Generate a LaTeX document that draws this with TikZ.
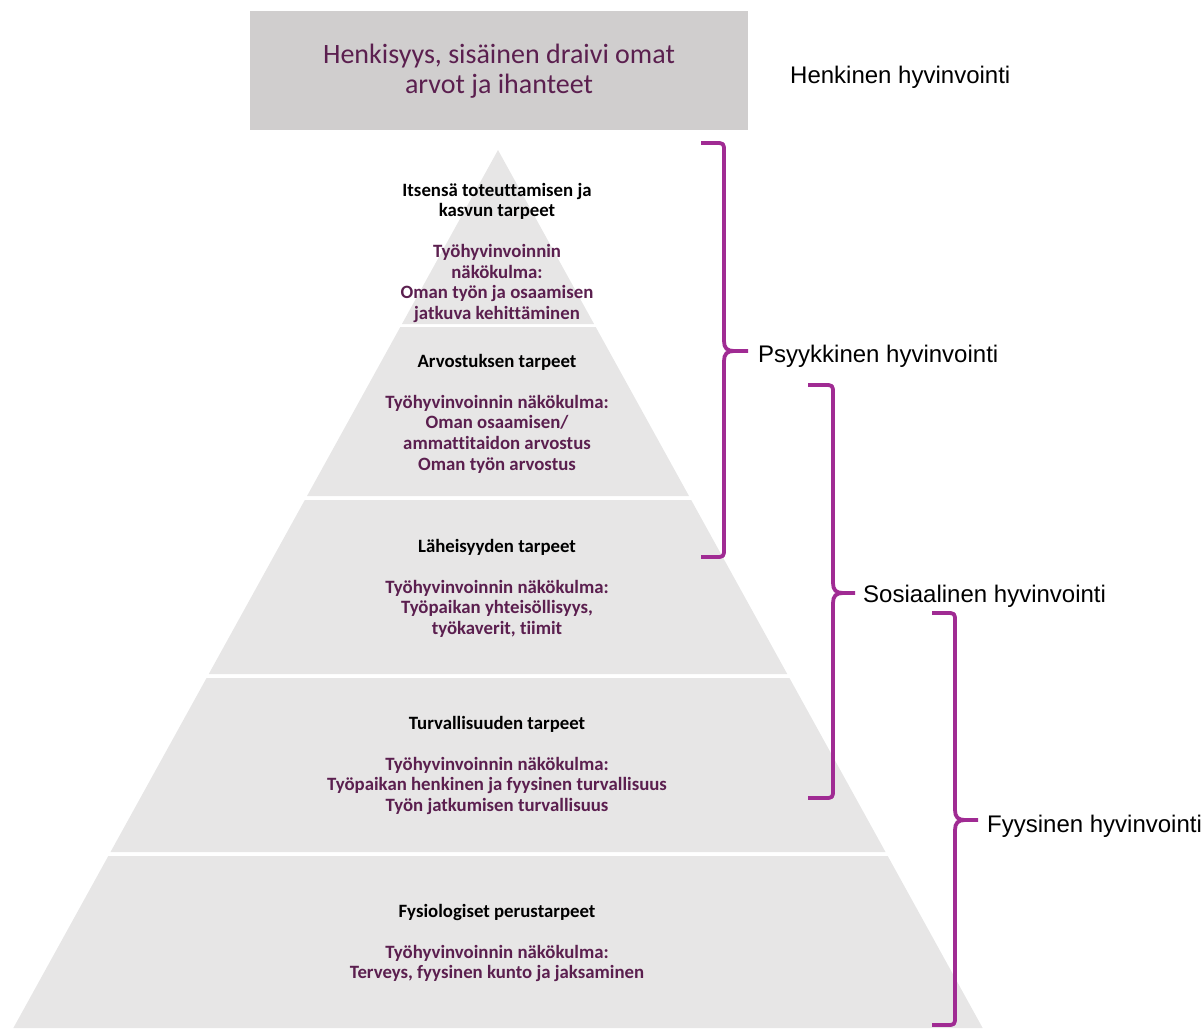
\documentclass[tikz,border=0pt]{standalone}
\usepackage{fontspec}
\newfontfamily\carlito[Ligatures=NoCommon]{Carlito}
\newfontfamily\sidefont{Liberation Sans}
\definecolor{bandgray}{HTML}{E7E6E6}
\definecolor{topgray}{HTML}{D0CECE}
\definecolor{txtpurple}{HTML}{5B1F4F}
\definecolor{bracepurple}{HTML}{A02B93}
\newcommand\mybrace[6]{%
  \draw[brace] (#1,#3) -- ({#2-9},#3) .. controls (#2,#3) and (#2,#3) .. (#2,{#3+9})
    -- (#2,{#4-10}) .. controls (#2,{#4-3}) and ({#2+3},#4) .. ({#2+10},#4) -- (#6,#4);
  \draw[brace] (#1,#5) -- ({#2-9},#5) .. controls (#2,#5) and (#2,#5) .. (#2,{#5-9})
    -- (#2,{#4+10}) .. controls (#2,{#4+3}) and ({#2+3},#4) .. ({#2+10},#4);
}
\begin{document}
\begin{tikzpicture}[x=1pt,y=-1pt,
  band/.style={fill=bandgray,draw=none},
  topbox/.style={fill=topgray,draw=none,minimum width=498pt,minimum height=119pt,inner sep=0pt},
  toptext/.style={font=\carlito\fontsize{28}{30}\selectfont,text=txtpurple,anchor=base,inner sep=0pt},
  title/.style={font=\carlito\bfseries\fontsize{18.8}{20.7}\selectfont,text=black,anchor=base,inner sep=0pt},
  body/.style={font=\carlito\bfseries\fontsize{18.8}{20.7}\selectfont,text=txtpurple,anchor=base,inner sep=0pt},
  brace/.style={draw=bracepurple,line width=3.8pt,line join=round},
  side/.style={font=\sidefont\fontsize{24}{28}\selectfont,text=black,anchor=base west,inner sep=0pt}]
\useasboundingbox (0,0) rectangle (1201,1028);
% pyramid bands
\foreach \a/\b in {150/324,327/496,500/674,678/852,856/1028}
  \fill[band] ({498-0.552*(\a-150)},\a) -- ({498+0.552*(\a-150)},\a)
     -- ({498+0.552*(\b-150)},\b) -- ({498-0.552*(\b-150)},\b) -- cycle;
% top box
\node[topbox] (top) at (499,70.5) {};
\node[toptext] (toptxt) at (499,63) {\begin{tabular}[t]{@{}c@{}}Henkisyys, sisäinen draivi omat\\arvot ja ihanteet\end{tabular}};
% band texts
\node[title] (t1) at (497,196) {\begin{tabular}[t]{@{}c@{}}Itsensä toteuttamisen ja\\kasvun tarpeet\end{tabular}};
\node[body] (b1) at (497,257.5) {\begin{tabular}[t]{@{}c@{}}Työhyvinvoinnin\\näkökulma:\\Oman työn ja osaamisen\\jatkuva kehittäminen\end{tabular}};
\node[title] (t2) at (497,367) {Arvostuksen tarpeet};
\node[body] (b2) at (497,408) {\begin{tabular}[t]{@{}c@{}}Työhyvinvoinnin näkökulma:\\Oman osaamisen/\\ammattitaidon arvostus\\Oman työn arvostus\end{tabular}};
\node[title] (t3) at (497,552) {Läheisyyden tarpeet};
\node[body] (b3) at (497,593) {\begin{tabular}[t]{@{}c@{}}Työhyvinvoinnin näkökulma:\\Työpaikan yhteisöllisyys,\\työkaverit, tiimit\end{tabular}};
\node[title] (t4) at (497,729) {Turvallisuuden tarpeet};
\node[body] (b4) at (497,770) {\begin{tabular}[t]{@{}c@{}}Työhyvinvoinnin näkökulma:\\Työpaikan henkinen ja fyysinen turvallisuus\\Työn jatkumisen turvallisuus\end{tabular}};
\node[title] (t5) at (497,917) {Fysiologiset perustarpeet};
\node[body] (b5) at (497,958) {\begin{tabular}[t]{@{}c@{}}Työhyvinvoinnin näkökulma:\\Terveys, fyysinen kunto ja jaksaminen\end{tabular}};
% braces
\mybrace{701}{724}{143}{351}{557}{748}
\mybrace{808}{833}{385}{593}{798}{855}
\mybrace{932}{955}{613}{820}{1025}{978}
% side labels
\node[side] (henk) at (790,83) {Henkinen hyvinvointi};
\node[side] (psy) at (758,362) {Psyykkinen hyvinvointi};
\node[side] (sos) at (863,602) {Sosiaalinen hyvinvointi};
\node[side] (fyy) at (987,832) {Fyysinen hyvinvointi};
\end{tikzpicture}
\end{document}
